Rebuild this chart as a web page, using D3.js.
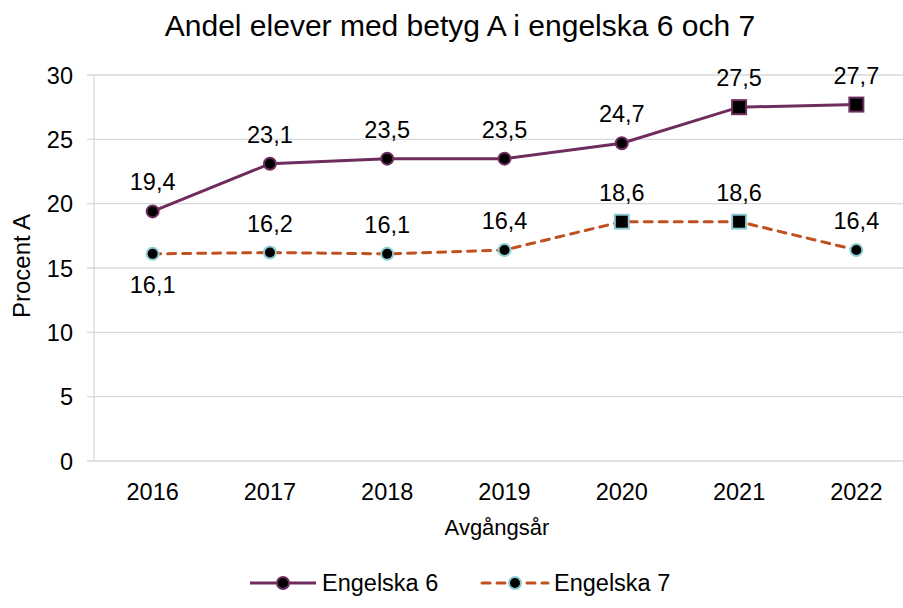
<!DOCTYPE html>
<html>
<head>
<meta charset="utf-8">
<script src="https://cdn.jsdelivr.net/npm/d3@7"></script>
<style>
  body { margin: 0; background: #fff; }
  text { font-family: "Liberation Sans", Arial, sans-serif; fill: #000; }
</style>
</head>
<body>
<svg width="903" height="608"></svg>
<script>
var years = ["2016", "2017", "2018", "2019", "2020", "2021", "2022"];
var eng6 = [19.4, 23.1, 23.5, 23.5, 24.7, 27.5, 27.7];
var eng7 = [16.1, 16.2, 16.1, 16.4, 18.6, 18.6, 16.4];
var eng6Square = [false, false, false, false, false, true, true];
var eng7Square = [false, false, false, false, true, true, false];
var eng7Below = [true, false, false, false, false, false, false];
var yTicks = [0, 5, 10, 15, 20, 25, 30];

var svg = d3.select("svg");
var x = d3.scaleBand().domain(years).range([94, 915]);
var y = d3.scaleLinear().domain([0, 30]).range([461, 75]);
var cx = function(d) { return x(d) + x.bandwidth() / 2; };
var fmt = function(v) { return v.toFixed(1).replace(".", ","); };
var fs = 23.5;

// gridlines
svg.append("g").selectAll("line").data(yTicks).enter().append("line")
    .attr("x1", 87).attr("x2", 903)
    .attr("y1", function(d) { return y(d); }).attr("y2", function(d) { return y(d); })
    .attr("stroke", "#d9d9d9").attr("stroke-width", 1.3);
svg.append("line").attr("x1", 94).attr("x2", 94).attr("y1", y(30)).attr("y2", y(0))
    .attr("stroke", "#d9d9d9").attr("stroke-width", 1.3);

// y axis labels
svg.append("g").selectAll("text").data(yTicks).enter().append("text")
    .attr("x", 73).attr("y", function(d) { return y(d) + 8.5; })
    .attr("text-anchor", "end").attr("font-size", fs).text(function(d) { return d; });

// x axis labels
svg.append("g").selectAll("text").data(years).enter().append("text")
    .attr("x", cx).attr("y", 500)
    .attr("text-anchor", "middle").attr("font-size", fs).text(function(d) { return d; });

svg.append("text").attr("x", 460).attr("y", 36).attr("text-anchor", "middle")
    .attr("font-size", 30).text("Andel elever med betyg A i engelska 6 och 7");
svg.append("text").attr("x", 497).attr("y", 535).attr("text-anchor", "middle")
    .attr("font-size", 22).text("Avgångsår");
svg.append("text").attr("transform", "translate(30,266) rotate(-90)").attr("text-anchor", "middle")
    .attr("font-size", 24).text("Procent A");

function drawSeries(values, color, markerStroke, dash, squares, below) {
    var pts = years.map(function(yr, i) { return { yr: yr, v: values[i], sq: squares[i], below: below ? below[i] : false }; });
    var line = d3.line().x(function(d) { return cx(d.yr); }).y(function(d) { return y(d.v); });
    svg.append("path").datum(pts).attr("d", line).attr("fill", "none")
        .attr("stroke", color).attr("stroke-width", 3).attr("stroke-dasharray", dash)
        .attr("stroke-linecap", dash ? "round" : "butt");
    var g = svg.append("g");
    pts.forEach(function(d) {
        if (d.sq) {
            g.append("rect").attr("x", cx(d.yr) - 7).attr("y", y(d.v) - 7)
                .attr("width", 14).attr("height", 14)
                .attr("fill", "#000").attr("stroke", markerStroke).attr("stroke-width", 2);
        } else {
            g.append("circle").attr("cx", cx(d.yr)).attr("cy", y(d.v)).attr("r", 6)
                .attr("fill", "#000").attr("stroke", markerStroke).attr("stroke-width", 2);
        }
        g.append("text").attr("x", cx(d.yr)).attr("y", d.below ? y(d.v) + 39 : y(d.v) - 21)
            .attr("text-anchor", "middle").attr("font-size", fs).text(fmt(d.v));
    });
}

drawSeries(eng6, "#6f2c5f", "#6f2c5f", null, eng6Square, null);
drawSeries(eng7, "#c0501f", "#8fcdd3", "8,7", eng7Square, eng7Below);

// legend
var legend = [
    { name: "Engelska 6", color: "#6f2c5f", mk: "#6f2c5f", dash: null, x: 250 },
    { name: "Engelska 7", color: "#c0501f", mk: "#8fcdd3", dash: "8,7", x: 482 }
];
legend.forEach(function(l) {
    svg.append("line").attr("x1", l.x).attr("x2", l.x + 66).attr("y1", 583).attr("y2", 583)
        .attr("stroke", l.color).attr("stroke-width", 3).attr("stroke-dasharray", l.dash)
        .attr("stroke-linecap", l.dash ? "round" : "butt");
    svg.append("circle").attr("cx", l.x + 33).attr("cy", 583).attr("r", 6)
        .attr("fill", "#000").attr("stroke", l.mk).attr("stroke-width", 2);
    svg.append("text").attr("x", l.x + 72).attr("y", 591).attr("font-size", fs).text(l.name);
});
</script>
</body>
</html>
